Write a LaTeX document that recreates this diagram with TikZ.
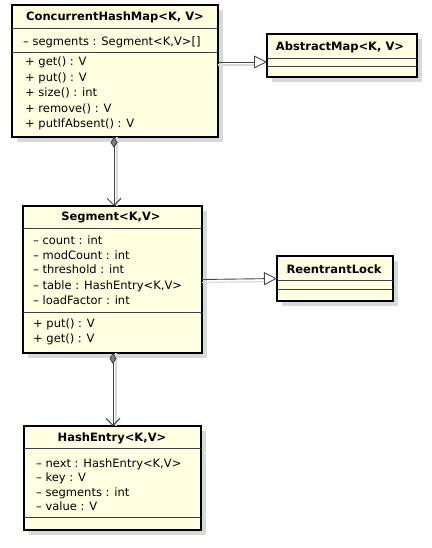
\documentclass[tikz,border=0pt]{standalone}
\usepackage{fontspec}
\setmainfont{DejaVu Sans}
\usetikzlibrary{arrows.meta,shadows}
\definecolor{boxfill}{RGB}{255,255,226}
\definecolor{conn}{RGB}{70,70,70}
\begin{document}
\begin{tikzpicture}[x=1pt,y=-1pt,
  umlbox/.style={draw=black, line width=1.6pt, fill=boxfill, rectangle, inner sep=0pt, outer sep=0pt, anchor=north west,
    drop shadow={shadow xshift=5pt, shadow yshift=-5pt, fill=black!15, opacity=1}},
  sep/.style={draw=black!75, line width=0.8pt},
  ttl/.style={font=\fontsize{11.5}{13}\selectfont\bfseries, inner sep=0pt},
  mem/.style={font=\fontsize{11.5}{13}\selectfont, inner sep=0pt, anchor=base west},
  comp/.style={draw=conn, line width=0.9pt, {Diamond[fill=gray, width=7pt, length=11pt]}-{Straight Barb[length=7pt, width=14pt, line width=0.9pt]}},
  gen/.style={draw=conn, line width=0.9pt, -{Triangle[open, length=13pt, width=13pt, fill=white, line width=0.9pt]}},
  cshadow/.style={draw=black!15, line width=1.2pt}
]
\useasboundingbox (0,0) rectangle (431,548);

% ConcurrentHashMap
\node[umlbox, minimum width=206pt, minimum height=132pt] (chm) at (12,5) {};
\draw[sep] ([yshift=-23pt]chm.north west) -- ([yshift=-23pt]chm.north east);
\draw[sep] ([yshift=-47pt]chm.north west) -- ([yshift=-47pt]chm.north east);
\node[ttl] (chmt) at (115,17) {ConcurrentHashMap<K, V>};
\node[mem] (chma1) at (23,46) {– segments : Segment<K,V>[]};
\node[mem] (chmm1) at (25,66) {+ get() : V};
\node[mem] (chmm2) at (25,81.5) {+ put() : V};
\node[mem] (chmm3) at (25,97) {+ size() : int};
\node[mem] (chmm4) at (25,112.5) {+ remove() : V};
\node[mem] (chmm5) at (25,128) {+ putIfAbsent() : V};

% AbstractMap
\node[umlbox, minimum width=150pt, minimum height=43pt] (am) at (267,34) {};
\draw[sep] ([yshift=-24pt]am.north west) -- ([yshift=-24pt]am.north east);
\draw[sep] ([yshift=-32pt]am.north west) -- ([yshift=-32pt]am.north east);
\node[ttl] (amt) at (340,47) {AbstractMap<K, V>};

% Segment
\node[umlbox, minimum width=179pt, minimum height=147pt] (seg) at (23,206) {};
\draw[sep] ([yshift=-22pt]seg.north west) -- ([yshift=-22pt]seg.north east);
\draw[sep] ([yshift=-106pt]seg.north west) -- ([yshift=-106pt]seg.north east);
\node[ttl] (segt) at (111,217) {Segment<K,V>};
\node[mem] (sega1) at (33,244) {– count : int};
\node[mem] (sega2) at (33,259.5) {– modCount : int};
\node[mem] (sega3) at (33,273.5) {– threshold : int};
\node[mem] (sega4) at (33,289) {– table : HashEntry<K,V>};
\node[mem] (sega5) at (33,304) {– loadFactor : int};
\node[mem] (segm1) at (33,327) {+ put() : V};
\node[mem] (segm2) at (33,342) {+ get() : V};

% ReentrantLock
\node[umlbox, minimum width=116pt, minimum height=45pt] (rl) at (277,256) {};
\draw[sep] ([yshift=-24pt]rl.north west) -- ([yshift=-24pt]rl.north east);
\draw[sep] ([yshift=-33pt]rl.north west) -- ([yshift=-33pt]rl.north east);
\node[ttl] (rlt) at (334,269) {ReentrantLock};

% HashEntry
\node[umlbox, minimum width=177pt, minimum height=104pt] (he) at (24,426) {};
\draw[sep] ([yshift=-22pt]he.north west) -- ([yshift=-22pt]he.north east);
\draw[sep] ([yshift=-91pt]he.north west) -- ([yshift=-91pt]he.north east);
\node[ttl] (het) at (112,438) {HashEntry<K,V>};
\node[mem] (hea1) at (36,467) {– next : HashEntry<K,V>};
\node[mem] (hea2) at (36,481) {– key : V};
\node[mem] (hea3) at (36,496) {– segments : int};
\node[mem] (hea4) at (36,510) {– value : V};

% connectors
\coordinate (amin) at ([yshift=-28pt]am.north west);
\coordinate (chmout) at (chm.east |- amin);
\coordinate (chmbot) at (chm.south -| 114,0);
\coordinate (segtop) at (seg.north -| 114,0);
\coordinate (segbot) at (seg.south -| 113,0);
\coordinate (hetop) at (he.north -| 113,0);

\draw[cshadow] ([xshift=3pt]chmbot) -- ([xshift=3pt]segtop);
\draw[cshadow] ([xshift=3pt]segbot) -- ([xshift=3pt]hetop);
\draw[cshadow] ([yshift=-3pt]chmout) -- ([yshift=-3pt,xshift=-8pt]amin);
\draw[cshadow] ([yshift=-3pt]seg.east) -- ([yshift=-3pt,xshift=-8pt]rl.west);

\draw[comp] (chmbot) -- (segtop);
\draw[comp] (segbot) -- (hetop);
\draw[gen] (chmout) -- (amin);
\draw[gen] (seg.east) -- (rl.west);
\end{tikzpicture}
\end{document}
